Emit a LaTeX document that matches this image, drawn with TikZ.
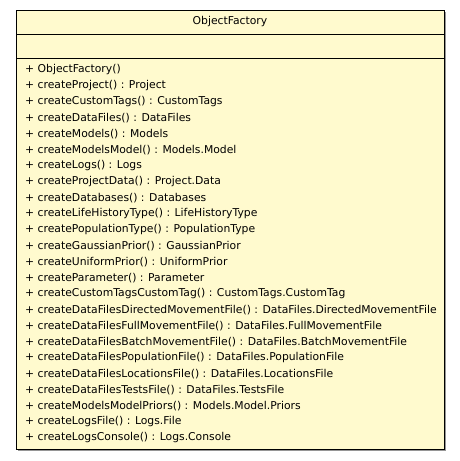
\documentclass[tikz,border=0pt]{standalone}
\usepackage{fontspec}
\setmainfont{DejaVu Sans}
\definecolor{classfill}{RGB}{255,250,206}
\definecolor{shadowc}{RGB}{150,150,150}
\tikzset{
  member/.style={anchor=west, inner sep=0pt, font=\fontsize{10.8}{13}\selectfont},
  classtitle/.style={anchor=center, inner sep=0pt, font=\fontsize{10.8}{13}\selectfont},
}
\begin{document}
\begin{tikzpicture}[x=1pt,y=1pt]
\useasboundingbox (0,0) rectangle (460,-461);
\fill[shadowc] (18,-12) rectangle (446,-451);
\draw[fill=classfill, line width=0.9pt] (16,-10) rectangle (444,-449);
\draw[line width=0.9pt] (16,-34) -- (444,-34);
\draw[line width=0.9pt] (16,-58) -- (444,-58);
\node[classtitle] (title) at (230,-22) {ObjectFactory};
\node[member] (m0) at (25,-70) {+ ObjectFactory()};
\node[member] (m1) at (25,-86) {+ createProject() : Project};
\node[member] (m2) at (25,-102) {+ createCustomTags() : CustomTags};
\node[member] (m3) at (25,-118) {+ createDataFiles() : DataFiles};
\node[member] (m4) at (25,-134) {+ createModels() : Models};
\node[member] (m5) at (25,-150) {+ createModelsModel() : Models.Model};
\node[member] (m6) at (25,-166) {+ createLogs() : Logs};
\node[member] (m7) at (25,-182) {+ createProjectData() : Project.Data};
\node[member] (m8) at (25,-198) {+ createDatabases() : Databases};
\node[member] (m9) at (25,-214) {+ createLifeHistoryType() : LifeHistoryType};
\node[member] (m10) at (25,-230) {+ createPopulationType() : PopulationType};
\node[member] (m11) at (25,-246) {+ createGaussianPrior() : GaussianPrior};
\node[member] (m12) at (25,-262) {+ createUniformPrior() : UniformPrior};
\node[member] (m13) at (25,-278) {+ createParameter() : Parameter};
\node[member] (m14) at (25,-294) {+ createCustomTagsCustomTag() : CustomTags.CustomTag};
\node[member] (m15) at (25,-310) {+ createDataFilesDirectedMovementFile() : DataFiles.DirectedMovementFile};
\node[member] (m16) at (25,-326) {+ createDataFilesFullMovementFile() : DataFiles.FullMovementFile};
\node[member] (m17) at (25,-342) {+ createDataFilesBatchMovementFile() : DataFiles.BatchMovementFile};
\node[member] (m18) at (25,-358) {+ createDataFilesPopulationFile() : DataFiles.PopulationFile};
\node[member] (m19) at (25,-374) {+ createDataFilesLocationsFile() : DataFiles.LocationsFile};
\node[member] (m20) at (25,-390) {+ createDataFilesTestsFile() : DataFiles.TestsFile};
\node[member] (m21) at (25,-406) {+ createModelsModelPriors() : Models.Model.Priors};
\node[member] (m22) at (25,-422) {+ createLogsFile() : Logs.File};
\node[member] (m23) at (25,-438) {+ createLogsConsole() : Logs.Console};
\end{tikzpicture}
\end{document}
